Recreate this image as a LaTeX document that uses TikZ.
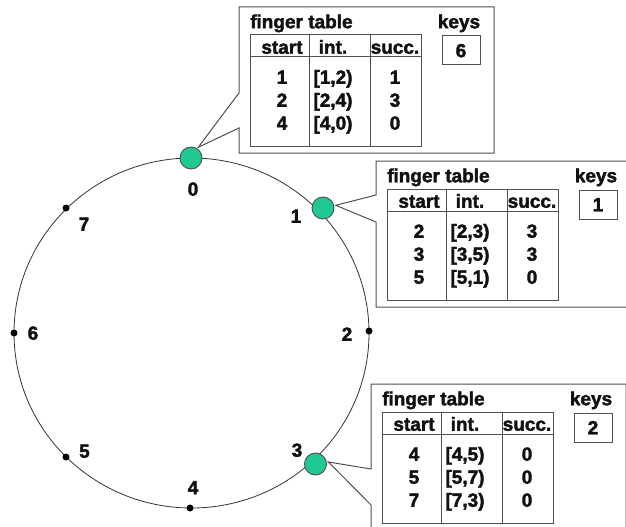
\documentclass[tikz,border=0pt]{standalone}
\usepackage{fontspec}
\setmainfont{Liberation Sans}[BoldFeatures={FakeBold=2}]
\definecolor{nodegreen}{RGB}{32,200,148}
\definecolor{lin}{RGB}{80,80,80}
\definecolor{ink}{RGB}{17,17,17}
\tikzset{
  txt/.style={inner sep=0pt, text height=13.5pt, text depth=0pt, text=ink,
    font=\fontsize{19}{22}\selectfont\bfseries},
  tline/.style={draw=lin, line width=1pt},
  callout/.style={draw=lin, line width=1pt, fill=white, line join=miter},
  peer/.style={circle, draw=lin, line width=0.9pt, fill=nodegreen,
    minimum size=22pt, inner sep=0pt, outer sep=2pt},
  ringdot/.style={circle, fill=black, minimum size=7pt, inner sep=0pt},
  keybox/.style={txt, draw=lin, line width=1pt, minimum width=38pt, minimum height=29pt},
  ring/.style={draw=black!80, line width=0.8pt}
}
% #1 prefix, #2 tx, #3 ty, #4 upper attach, #5 lower attach, #6 tip, #7 key, #8 rows
\newcommand\ftbox[8]{%
  \draw[callout] (#2-11,#3-28) -- (#2+244,#3-28) -- (#2+244,#3+118) -- (#2-11,#3+118)
     -- (#2-11,#3+#5) -- (#6) -- (#2-11,#3+#4) -- cycle;
  \begin{scope}[shift={(#2,#3)}, name prefix=#1-]
    \draw[tline] (0,0) rectangle (171,111);
    \draw[tline] (0,22) -- (171,22) (59.5,0) -- (59.5,111) (120.5,0) -- (120.5,111);
    \node[txt, anchor=west] (title) at (0,-13.5) {finger table};
    \node[txt] (keys) at (209,-13.5) {keys};
    \node[keybox] (key) at (211,15.5) {#7};
    \node[txt] (hs) at (32,12) {start};
    \node[txt] (hi) at (83,12) {int.};
    \node[txt] (hc) at (145,12) {succ.};
    \foreach \va/\vb/\vc [count=\k] in {#8} {
      \node[txt] (s\k) at (32,19+23*\k) {\va};
      \node[txt] (i\k) at (83,19+23*\k) {\vb};
      \node[txt] (c\k) at (145,19+23*\k) {\vc};
    }
  \end{scope}}
\begin{document}
\begin{tikzpicture}[x=1pt,y=-1pt]
  \useasboundingbox (0,0) rectangle (626,527);
  \clip (0,0) rectangle (626,527);
  % ring
  \draw[ring] (191.5,333) ellipse [x radius=177.5, y radius=175];
  % small identifier dots
  \node[ringdot] (d2) at (369,331) {};
  \node[ringdot] (d4) at (190,508) {};
  \node[ringdot] (d5) at (66,457) {};
  \node[ringdot] (d6) at (14,333) {};
  \node[ringdot] (d7) at (66,208) {};
  % peers
  \node[peer] (n0) at (191,158) {};
  \node[peer] (n1) at (323,208) {};
  \node[peer] (n3) at (315.5,464) {};
  % labels
  \node[txt] (l0) at (193,189) {0};
  \node[txt] (l1) at (296,216) {1};
  \node[txt] (l2) at (347,334) {2};
  \node[txt] (l3) at (297,450) {3};
  \node[txt] (l4) at (193,487.5) {4};
  \node[txt] (l5) at (84.5,451) {5};
  \node[txt] (l6) at (33,333) {6};
  \node[txt] (l7) at (84,224) {7};
  % finger tables
  \ftbox{t0}{250}{35}{58}{93}{n0.56}{6}{1/{[1,2)}/1, 2/{[2,4)}/3, 4/{[4,0)}/0}
  \ftbox{t1}{387}{189}{6}{33}{n1.12}{1}{2/{[2,3)}/3, 3/{[3,5)}/3, 5/{[5,1)}/0}
  \ftbox{t3}{382}{412}{57}{93}{n3.9}{2}{4/{[4,5)}/0, 5/{[5,7)}/0, 7/{[7,3)}/0}
\end{tikzpicture}
\end{document}
